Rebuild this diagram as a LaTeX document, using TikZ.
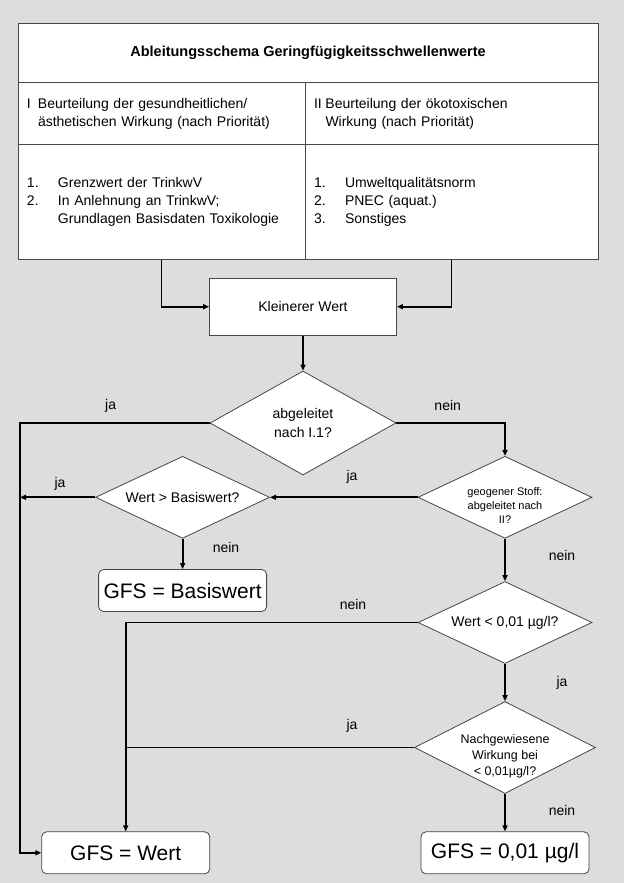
\documentclass[tikz,border=0pt]{standalone}
\usepackage{fontspec}
\setmainfont{Liberation Sans}
\usetikzlibrary{arrows.meta,shapes.geometric}
\definecolor{bg}{RGB}{221,221,221}
\definecolor{rim}{RGB}{70,70,70}
\newcommand{\listnr}[1]{\makebox[31pt][l]{#1}}

\begin{document}
\begin{tikzpicture}[
  x=1pt, y=-1pt,
  cell/.style={draw=rim, line width=1pt, fill=white, inner sep=0pt, inner xsep=9pt, align=left, font=\fontsize{14}{18}\selectfont},
  box/.style={draw=rim, line width=0.8pt, fill=white, minimum width=187pt, minimum height=57pt, font=\fontsize{14}{18}\selectfont},
  dia/.style={diamond, aspect=2.1, draw=rim, line width=0.8pt, fill=white, inner sep=0pt, minimum width=174pt, minimum height=82pt, align=center, font=\fontsize{14}{19}\selectfont},
  res/.style={draw=rim, line width=0.8pt, fill=white, rounded corners=5pt, minimum width=168pt, minimum height=42pt, font=\fontsize{21}{24}\selectfont},
  e/.style={-{Triangle[length=6pt, width=5pt]}, line width=1.8pt},
  ln/.style={line width=1.8pt},
  lab/.style={font=\fontsize{14}{16}\selectfont}
]
\fill[bg] (0,0) rectangle (624,883);
\useasboundingbox (0,0) rectangle (624,883);

% table
\node[cell, minimum width=580pt, minimum height=59.4pt, align=center, font=\bfseries\fontsize{14.5}{18}\selectfont] (title) at (308,53) {Ableitungsschema Geringfügigkeitsschwellenwerte};
\node[cell, text width=269pt, minimum height=61.3pt] (hl) at (161.5,113.4) {\makebox[11pt][l]{I}Beurteilung der gesundheitlichen/\\\hspace*{11pt}ästhetischen Wirkung (nach Priorität)};
\node[cell, text width=275pt, minimum height=61.3pt] (hr) at (451.5,113.4) {\makebox[11.5pt][l]{II}Beurteilung der ökotoxischen\\\hspace*{11.5pt}Wirkung (nach Priorität)};
\node[cell, text width=269pt, minimum height=115.3pt] (ll) at (161.5,201.7) {\listnr{1.}Grenzwert der TrinkwV\\\listnr{2.}In Anlehnung an TrinkwV;\\\hspace*{31pt}Grundlagen Basisdaten Toxikologie};
\node[cell, text width=275pt, minimum height=115.3pt] (lr) at (451.5,201.7) {\listnr{1.}Umweltqualitätsnorm\\\listnr{2.}PNEC (aquat.)\\\listnr{3.}Sonstiges};

% flow
\node[box] (kw) at (303,306.7) {Kleinerer Wert};
\node[dia, aspect=1.8, minimum width=186pt, minimum height=104pt] (d1) at (303,423) {abgeleitet\\nach I.1?};
\node[dia] (d2) at (505,497.3) {};
\node[align=center, font=\fontsize{11}{14}\selectfont] (t2) at (505,505.5) {geogener Stoff:\\abgeleitet nach\\II?};
\node[dia] (d3) at (182.6,497.3) {Wert > Basiswert?};
\node[dia] (d4) at (505,622.5) {Wert < 0,01 µg/l?};
\node[dia, aspect=2, minimum width=181pt, minimum height=92pt] (d5) at (505,747.5) {};
\node[align=center, font=\fontsize{12.5}{16}\selectfont] (t5) at (505,756.4) {Nachgewiesene\\Wirkung bei\\< 0,01µg/l?};

\node[res] (gb) at (182.6,590.5) {GFS = Basiswert};
\node[res] (gw) at (125.7,852.8) {GFS = Wert};
\node[res] (g01) at (505,852.8) {GFS = 0,01 µg/l};

\coordinate (lft) at (20,0);

\draw[e] (ll.south) |- (kw.west);
\draw[e] (lr.south) |- (kw.east);
\draw[e] (kw) -- (d1);
\draw[e] (d1.west) -- (d1.west -| lft) |- (gw.west);
\draw[e] (d1.east) -| (d2.north);
\draw[e] (d2.west) -- (d3.east);
\draw[e] (d3.west) -- (d3.west -| lft);
\draw[e] (d3.south) -- (gb.north);
\draw[e] (d2.south) -- (d4.north);
\draw[e] (d4.west) -| (gw.north);
\draw[e] (d4.south) -- (d5.north);
\draw[ln] (d5.west) -- (d5.west -| gw.north);
\draw[e] (d5.south) -- (g01.north);

% labels
\node[lab] (ja1) at (110.6,405.7) {ja};
\node[lab] (nein1) at (447.7,405.7) {nein};
\node[lab] (ja2) at (352,477.3) {ja};
\node[lab] (ja3) at (60,484) {ja};
\node[lab] (nein2) at (226,547.7) {nein};
\node[lab] (nein3) at (562,555.7) {nein};
\node[lab] (nein4) at (353,604.3) {nein};
\node[lab] (ja4) at (562,683.3) {ja};
\node[lab] (ja5) at (352,725.7) {ja};
\node[lab] (nein5) at (562,810) {nein};
\end{tikzpicture}
\end{document}
